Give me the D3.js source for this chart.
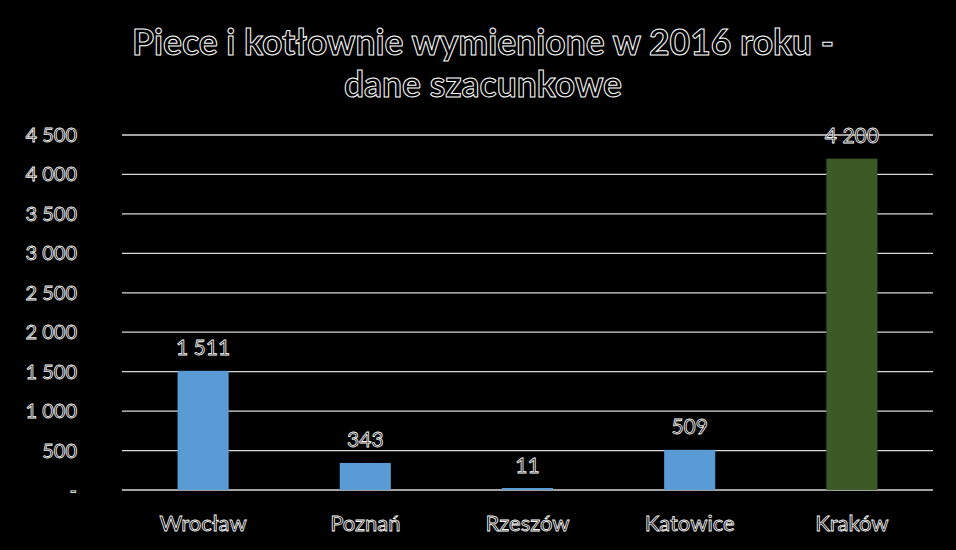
<!DOCTYPE html>
<html>
<head>
<meta charset="utf-8">
<script src="https://cdn.jsdelivr.net/npm/d3@7"></script>
<style>
  body { margin: 0; background: #000; }
  svg text { font-family: Lato, "Open Sans", sans-serif; fill: #000; stroke: #fff; stroke-width: 0.8px; }
</style>
</head>
<body>
<svg width="956" height="550"></svg>
<script>
// chart data
var cities = ["Wrocław", "Poznań", "Rzeszów", "Katowice", "Kraków"];
var counts = [1511, 343, 11, 509, 4200];
var barColors = ["#5b9bd5", "#5b9bd5", "#5b9bd5", "#5b9bd5", "#3b5a26"];
var yTicks = [0, 500, 1000, 1500, 2000, 2500, 3000, 3500, 4000, 4500];
var titleLines = ["Piece i kotłownie wymienione w 2016 roku -", "dane szacunkowe"];

var plotLeft = 122, plotRight = 933, plotTop = 135, plotBottom = 490;

var svg = d3.select("svg");
svg.append("rect").attr("width", 956).attr("height", 550).attr("fill", "#000");

var x = d3.scaleBand().domain(cities).range([plotLeft, plotRight]).paddingInner(0.685).paddingOuter(0.3425);
var y = d3.scaleLinear().domain([0, 4500]).range([plotBottom, plotTop]);

// number format with space as thousands separator
var fmt = function(v) {
    if (v === 0) return "-";
    return d3.format(",")(v).replace(/,/g, " ");
};

// gridlines
svg.append("g").selectAll("line").data(yTicks).enter().append("line")
    .attr("x1", plotLeft).attr("x2", plotRight)
    .attr("y1", function(d) { return y(d); })
    .attr("y2", function(d) { return y(d); })
    .attr("stroke", "#d9d9d9").attr("stroke-width", 1.3);

// y axis labels
svg.append("g").selectAll("text").data(yTicks).enter().append("text")
    .attr("x", 77)
    .attr("y", function(d) { return y(d); })
    .attr("dy", "0.35em")
    .attr("text-anchor", "end")
    .style("font-size", "20px")
    .text(fmt);

// bars (tiny values still get a visible sliver)
svg.append("g").selectAll("rect").data(counts).enter().append("rect")
    .attr("x", function(d, i) { return x(cities[i]); })
    .attr("width", x.bandwidth())
    .attr("y", function(d) { return Math.min(y(d), plotBottom - 2); })
    .attr("height", function(d) { return Math.max(plotBottom - y(d), 2); })
    .attr("fill", function(d, i) { return barColors[i]; });

// value labels
svg.append("g").selectAll("text").data(counts).enter().append("text")
    .attr("x", function(d, i) { return x(cities[i]) + x.bandwidth() / 2; })
    .attr("y", function(d) { return y(d) - 16; })
    .attr("text-anchor", "middle")
    .style("font-size", "21px")
    .text(fmt);

// category labels
svg.append("g").selectAll("text").data(cities).enter().append("text")
    .attr("x", function(d) { return x(d) + x.bandwidth() / 2; })
    .attr("y", 531)
    .attr("text-anchor", "middle")
    .style("font-size", "22px")
    .text(function(d) { return d; });

// title
svg.append("g").selectAll("text").data(titleLines).enter().append("text")
    .attr("x", 483)
    .attr("y", function(d, i) { return 55 + i * 42; })
    .attr("text-anchor", "middle")
    .style("font-size", "35.5px")
    .style("font-weight", "bold")
    .style("stroke-width", "1px")
    .text(function(d) { return d; });
</script>
</body>
</html>
